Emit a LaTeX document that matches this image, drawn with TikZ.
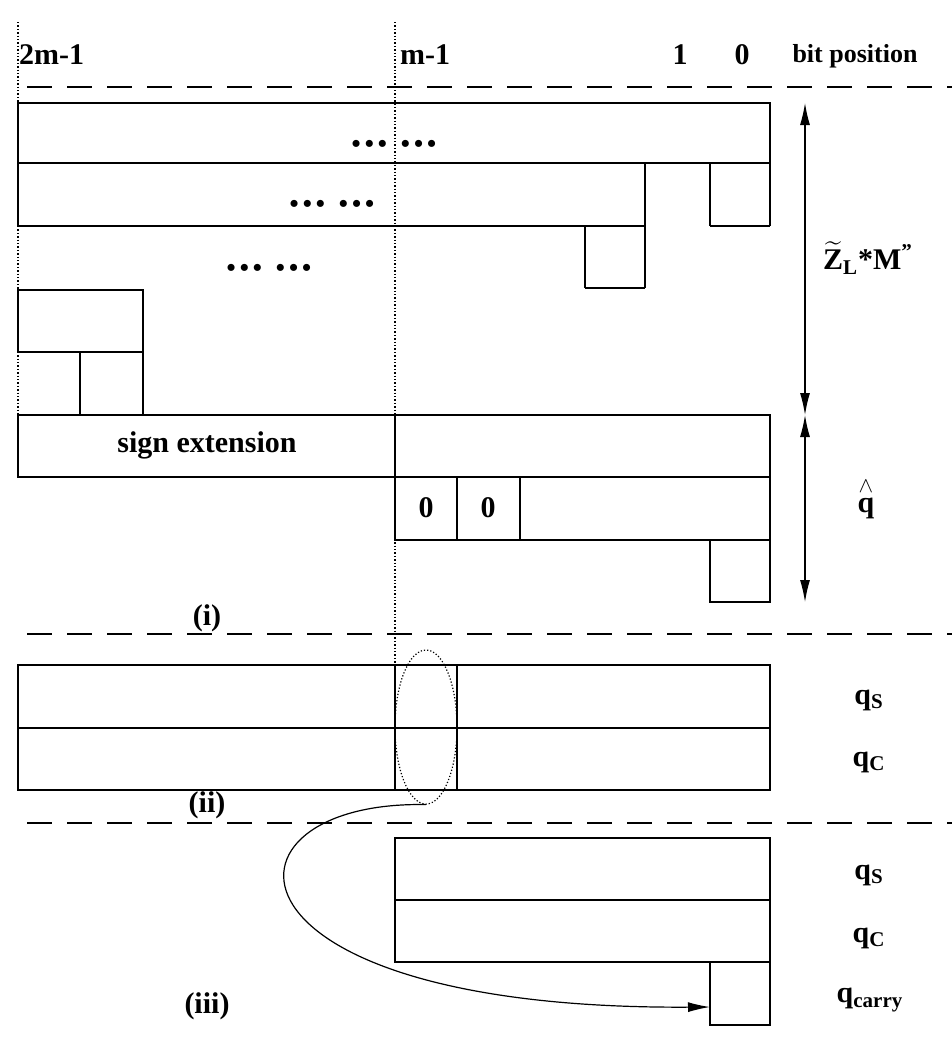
\documentclass[tikz,border=0pt]{standalone}
\usepackage{amsmath}
\usepackage{fontspec}
\setmainfont{Liberation Serif}
\usetikzlibrary{arrows.meta, shapes.geometric}

\newcommand{\bdots}{{\fontsize{13}{13}\selectfont\textbullet\kern2pt\textbullet\kern2pt\textbullet}}

\begin{document}
\begin{tikzpicture}[x=0.5pt, y=-0.5pt, >={Latex[length=11pt,width=5pt]},
    font=\fontsize{15}{17}\selectfont\bfseries,
    box/.style={line width=0.6pt},
    heavy/.style={line width=1.3pt},
    sepline/.style={line width=0.8pt, dash pattern=on 12.5pt off 7.5pt},
    bitline/.style={line width=0.7pt, densely dotted}]
    \useasboundingbox (0,0) rectangle (952,1050);

    % bit positions
    \node[anchor=west] (b2m) at (12,55) {2m-1};
    \node[anchor=west] (bm) at (393,55) {m-1};
    \node (b1) at (680,55) {1};
    \node (b0) at (742,55) {0};
    \node (bpos) at (855,56) {\fontsize{13}{15}\selectfont bit position};
    \draw[bitline] (18,22) -- (18,415);
    \draw[bitline] (395,22) -- (395,665);

    % separators
    \draw[sepline] (27,87) -- (952,87);
    \draw[sepline] (27,634) -- (952,634);
    \draw[sepline] (27,823) -- (952,823);

    % (i) partial products
    \draw[box] (18,103) rectangle (770,163);
    \draw[box] (18,163) -- (18,226);
    \draw[box] (645,163) -- (645,226);
    \draw[heavy] (18,226) -- (645,226);
    \draw[box] (710,163) -- (710,226) (770,163) -- (770,226);
    \draw[heavy] (710,226) -- (770,226);
    \draw[box] (585,226) -- (585,288) (645,226) -- (645,288);
    \draw[heavy] (585,288) -- (645,288);
    \node (dots1) at (394,146) {\bdots\kern7pt\bdots};
    \node (dots2) at (332,206) {\bdots\kern7pt\bdots};
    \node (dots3) at (269,270) {\bdots\kern7pt\bdots};

    \draw[box] (18,290) rectangle (143,352);
    \draw[heavy] (80,352) -- (80,415);
    \draw[box] (143,352) -- (143,415);

    % sign extension and q-hat
    \draw[box] (18,415) rectangle (770,477);
    \draw[heavy] (395,415) -- (395,477);
    \node (sext) at (207,445) {sign extension};
    \draw[box] (395,477) rectangle (770,540);
    \draw[box] (457,477) -- (457,540);
    \draw[heavy] (520,477) -- (520,540);
    \node (z1) at (426,508) {0};
    \node (z2) at (488,508) {0};
    \draw[box] (710,540) rectangle (770,602);

    \coordinate (at) at (805,103);
    \coordinate (am) at (805,415);
    \coordinate (ab) at (805,602);
    \draw[box, <->] (at) -- (am);
    \draw[box, <->] (am) -- (ab);
    \node (zlm) at (868,258) {$\widetilde{\text{Z}}_{\text{L}}\text{*M}^{\text{''}}$};
    \node (qhat) at (866,498) {$\overset{\wedge}{\text{q}}$};
    \node (li) at (207,618) {(i)};

    % (ii) carry-save form
    \draw[box] (18,665) rectangle (770,790);
    \draw[box] (18,728) -- (770,728);
    \draw[heavy] (18,665) -- (395,665);
    \draw[heavy] (395,665) -- (395,790);
    \draw[box] (457,665) -- (457,790);
    \node[ellipse, draw, densely dotted, line width=0.6pt, inner sep=0pt,
          minimum width=31pt, minimum height=77pt] (ell) at (426,727) {};
    \node (qs1) at (869,700) {q\textsubscript{S}};
    \node (qc1) at (869,762) {q\textsubscript{C}};
    \node (lii) at (207,805) {(ii)};

    % (iii) after truncation
    \draw[box] (395,838) rectangle (770,962);
    \draw[heavy] (395,900) -- (770,900);
    \draw[box] (710,962) rectangle (770,1025);
    \coordinate (cin) at (710,1007);
    \node (qs2) at (869,875) {q\textsubscript{S}};
    \node (qc2) at (869,938) {q\textsubscript{C}};
    \node (qcar) at (870,1000) {q\textsubscript{carry}};
    \node (liii) at (207,1006) {(iii)};

    \draw[box, ->] (ell.south) .. controls (205,800) and (205,1010) .. (cin);
\end{tikzpicture}
\end{document}
